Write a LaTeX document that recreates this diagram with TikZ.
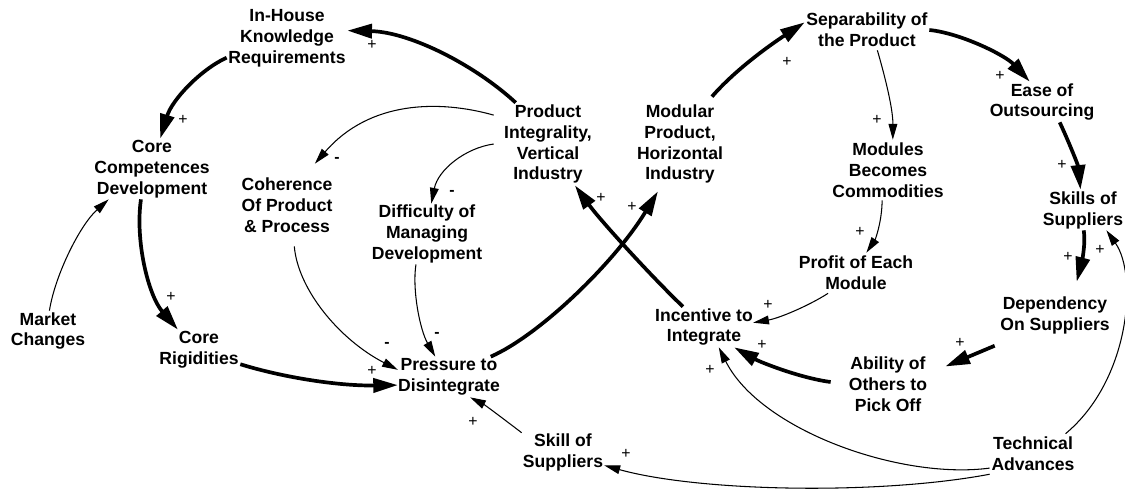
\documentclass[tikz,border=0pt]{standalone}
\usepackage{fontspec}
\setmainfont{Liberation Sans}
\usetikzlibrary{arrows.meta}
\begin{document}
\begin{tikzpicture}[x=0.02cm,y=-0.02cm,
  var/.style={inner sep=0pt, align=center, font=\fontsize{10}{11.9}\selectfont\bfseries},
  sgn/.style={inner sep=0pt, font=\fontsize{9}{10}\selectfont},
  heavy/.style={line width=2.1pt, -{Triangle[length=14pt,width=8pt]}},
  light/.style={line width=0.6pt, -{Triangle[length=9pt,width=5pt]}}]
\useasboundingbox (0,0) rectangle (1125,491);
% variables
\node[var, minimum width=2.4cm,  minimum height=1.2cm]  (ih) at (287,38)  {In-House\\Knowledge\\Requirements};
\node[var, minimum width=2.4cm,  minimum height=1.2cm]  (cc) at (152,169) {Core\\Competences\\Development};
\node[var, minimum width=1.6cm,  minimum height=0.8cm]  (mc) at (48,331)  {Market\\Changes};
\node[var, minimum width=1.64cm, minimum height=0.8cm]  (cr) at (199,350) {Core\\Rigidities};
\node[var, minimum width=1.88cm, minimum height=1.64cm] (co) at (287,205) {Coherence\\Of Product\\\& Process};
\node[var, minimum width=2.28cm, minimum height=1.2cm]  (di) at (427,234) {Difficulty of\\Managing\\Development};
\node[var, minimum width=2.16cm, minimum height=1.64cm] (pi) at (548,144) {Product\\Integrality,\\Vertical\\Industry};
\node[var, minimum width=1.76cm, minimum height=1.88cm] (mp) at (680,144) {Modular\\Product,\\Horizontal\\Industry};
\node[var, minimum width=2.48cm, minimum height=0.8cm]  (se) at (867,30)  {Separability of\\the Product};
\node[var, minimum width=1.84cm, minimum height=0.8cm]  (eo) at (1042,102) {Ease of\\Outsourcing};
\node[var, minimum width=2.28cm, minimum height=1.2cm]  (mo) at (888,170) {Modules\\Becomes\\Commodities};
\node[var, minimum width=1.44cm, minimum height=0.8cm]  (ss) at (1083,210) {Skills of\\Suppliers};
\node[var, minimum width=2.28cm, minimum height=0.8cm]  (pr) at (856,273) {Profit of Each\\Module};
\node[var, minimum width=2.4cm,  minimum height=1.32cm] (de) at (1055,315) {Dependency\\On Suppliers};
\node[var, minimum width=1.88cm, minimum height=0.8cm]  (in) at (704,327) {Incentive to\\Integrate};
\node[var, minimum width=2.28cm, minimum height=1.2cm]  (ab) at (888,384) {Ability of\\Others to\\Pick Off};
\node[var, minimum width=2.0cm,  minimum height=0.8cm]  (pd) at (449,377) {Pressure to\\Disintegrate};
\node[var, minimum width=1.64cm, minimum height=0.8cm]  (sk) at (563,452) {Skill of\\Suppliers};
\node[var, minimum width=1.72cm, minimum height=0.8cm]  (ta) at (1033,454) {Technical\\Advances};
% connectors
\draw[heavy] (pi.128) .. controls (475,65) and (410,32) .. (ih.7);
\draw[heavy] (ih.198) .. controls (200,70) and (172,100) .. (cc.75);
\draw[heavy] (cc.250) .. controls (135,240) and (148,295) .. (cr.136);
\draw[light] (mc.86) .. controls (55,275) and (80,225) .. (cc.215);
\draw[heavy] (cr.341) .. controls (285,378) and (340,386) .. (pd.189);
\draw[light] (pi.152) .. controls (440,100) and (370,100) .. (co.56);
\draw[light] (pi.180) .. controls (465,148) and (438,170) .. (di.82);
\draw[light] (co.280) .. controls (298,290) and (340,340) .. (pd.172);
\draw[light] (di.250) .. controls (412,290) and (420,330) .. (pd.124);
\draw[heavy] (pd.26) .. controls (540,335) and (615,262) .. (mp.245);
\draw[heavy] (in.136) .. controls (650,275) and (600,220) .. (pi.303);
\draw[heavy] (mp.56) .. controls (735,70) and (770,45) .. (se.173);
\draw[heavy] (se.0) .. controls (960,33) and (1005,55) .. (eo.121);
\draw[light] (se.297) .. controls (886,80) and (893,110) .. (mo.81);
\draw[heavy] (eo.311) .. controls (1068,140) and (1078,165) .. (ss.97);
\draw[light] (mo.259) .. controls (882,222) and (875,240) .. (pr.63);
\draw[heavy] (ss.272) .. controls (1086,245) and (1081,265) .. (de.57);
\draw[light] (ta.32) .. controls (1130,380) and (1138,275) .. (ss.319);
\draw[light] (pr.216) .. controls (810,305) and (780,318) .. (in.5);
\draw[heavy] (de.207) -- (ab.17);
\draw[heavy] (ab.178) .. controls (800,378) and (760,362) .. (in.326);
\draw[light] (ta.198) .. controls (900,480) and (760,430) .. (in.306);
\draw[light] (ta.205) .. controls (880,495) and (700,492) .. (sk.342);
\draw[light] (sk.155) .. controls (505,420) and (485,405) .. (pd.316);
% polarity signs
\node[sgn] (s1)  at (372,45)  {+};
\node[sgn] (s2)  at (183,120) {+};
\node[sgn] (s3)  at (171,297) {+};
\node[sgn] (s4)  at (372,371) {+};
\node[sgn] (s5)  at (337,160) {\bfseries -};
\node[sgn] (s6)  at (452,193) {\bfseries -};
\node[sgn] (s7)  at (387,345) {\bfseries -};
\node[sgn] (s8)  at (437,335) {\bfseries -};
\node[sgn] (s9)  at (632,207) {+};
\node[sgn] (s10) at (601,198) {+};
\node[sgn] (s11) at (787,62)  {+};
\node[sgn] (s12) at (1000,76) {+};
\node[sgn] (s13) at (877,120) {+};
\node[sgn] (s14) at (1062,165) {+};
\node[sgn] (s15) at (860,232) {+};
\node[sgn] (s16) at (1068,257) {+};
\node[sgn] (s17) at (1100,250) {+};
\node[sgn] (s18) at (768,305) {+};
\node[sgn] (s19) at (960,343) {+};
\node[sgn] (s20) at (762,345) {+};
\node[sgn] (s21) at (710,370) {+};
\node[sgn] (s22) at (626,454) {+};
\node[sgn] (s23) at (473,422) {+};
\end{tikzpicture}
\end{document}
